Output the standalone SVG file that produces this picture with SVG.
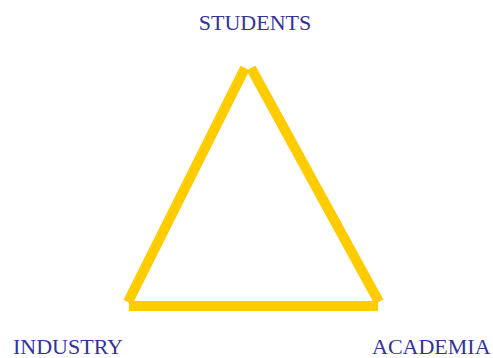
<svg xmlns="http://www.w3.org/2000/svg" width="493" height="358" viewBox="0 0 493 358">
<style>
.lbl{font-family:"Liberation Serif","Times New Roman",serif;font-size:22px;fill:#333399}
.edge{stroke:#FFCC00;stroke-width:10;fill:none;stroke-linecap:butt}
</style>
<rect width="493" height="358" fill="#ffffff"/>
<g id="connectors">
<line class="edge" x1="245" y1="68" x2="128" y2="302"/>
<line class="edge" x1="251" y1="68" x2="379" y2="302"/>
<line class="edge" x1="129" y1="306" x2="378" y2="306"/>
</g>
<g id="students"><text class="lbl" x="255" y="30" text-anchor="middle">STUDENTS</text></g>
<g id="industry"><text class="lbl" x="13" y="353.5">INDUSTRY</text></g>
<g id="academia"><text class="lbl" x="372" y="353.5">ACADEMIA</text></g>
</svg>
